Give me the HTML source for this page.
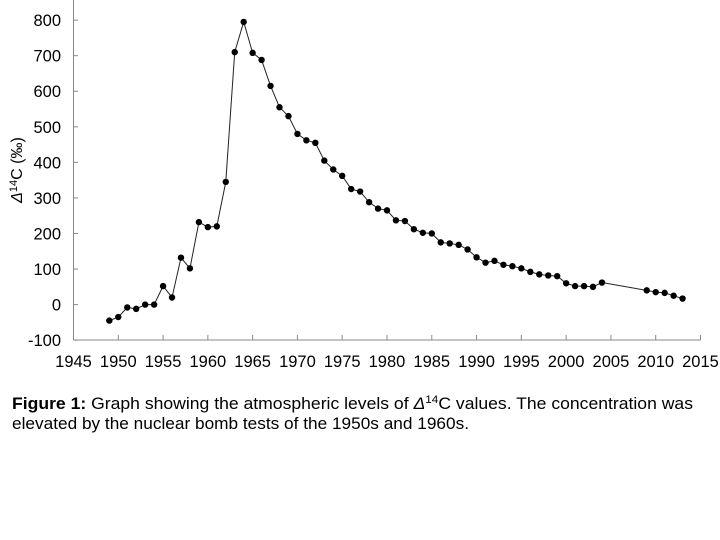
<!DOCTYPE html>
<html><head><meta charset="utf-8"><style>
html,body{margin:0;padding:0;background:#fff;}
svg{display:block;}
text{font-family:"Liberation Sans",Arial,sans-serif;fill:#000;}
</style></head><body>
<svg id="s" width="720" height="540" viewBox="0 0 720 540" xmlns="http://www.w3.org/2000/svg">
<rect width="720" height="540" fill="#fff"/>
<g id="ax" stroke="#888" stroke-width="1" fill="none"></g>
<g id="lbl" font-size="16.5"></g>
<polyline id="ln" fill="none" stroke="#222" stroke-width="1"/>
<g id="pts" fill="#000"></g>
<text transform="translate(22,170) rotate(-90)" font-size="16" text-anchor="middle"><tspan font-style="italic">Δ</tspan><tspan font-size="11" dy="-5">14</tspan><tspan dy="5">C (‰)</tspan></text>
<text x="12" y="409" font-size="16.5" textLength="681" lengthAdjust="spacingAndGlyphs"><tspan font-weight="bold">Figure 1:</tspan> Graph showing the atmospheric levels of <tspan font-style="italic">Δ</tspan><tspan font-size="11" dy="-6">14</tspan><tspan dy="6">C values. The concentration was</tspan></text>
<text x="12" y="429" font-size="16.5" textLength="457" lengthAdjust="spacingAndGlyphs">elevated by the nuclear bomb tests of the 1950s and 1960s.</text>
</svg>
<script>
const ns="http://www.w3.org/2000/svg";
const X=y=>73.5+(y-1945)*8.957, Y=v=>304.6-v*0.3556;
const ax=document.getElementById('ax'),lb=document.getElementById('lbl');
function el(p,t,a,txt){const e=document.createElementNS(ns,t);for(const k in a)e.setAttribute(k,a[k]);if(txt!=null)e.textContent=txt;p.appendChild(e);}
el(ax,'line',{x1:73.5,y1:0,x2:73.5,y2:340});
el(ax,'line',{x1:73.5,y1:340,x2:700.5,y2:340});
for(let v=-100;v<=800;v+=100){el(ax,'line',{x1:73.5,y1:Y(v),x2:78,y2:Y(v)});el(lb,'text',{x:61,y:Y(v)+6,'text-anchor':'end'},v);}
for(let y=1945;y<=2015;y+=5){el(ax,'line',{x1:X(y),y1:335,x2:X(y),y2:340});el(lb,'text',{x:X(y),y:367,'text-anchor':'middle'},y);}
const d=[[1949,-45],[1950,-35],[1951,-8],[1952,-12],[1953,0],[1954,0],[1955,52],[1956,20],[1957,132],[1958,102],[1959,232],[1960,218],[1961,220],[1962,345],[1963,710],[1964,795],[1965,708],[1966,688],[1967,615],[1968,555],[1969,530],[1970,480],[1971,462],[1972,455],[1973,405],[1974,380],[1975,362],[1976,325],[1977,318],[1978,288],[1979,270],[1980,265],[1981,237],[1982,235],[1983,212],[1984,202],[1985,200],[1986,175],[1987,172],[1988,168],[1989,155],[1990,133],[1991,118],[1992,123],[1993,112],[1994,108],[1995,102],[1996,92],[1997,85],[1998,82],[1999,80],[2000,60],[2001,52],[2002,52],[2003,50],[2004,62],[2009,40],[2010,35],[2011,33],[2012,25],[2013,17]];
document.getElementById('ln').setAttribute('points',d.map(p=>X(p[0])+','+Y(p[1])).join(' '));
const pts=document.getElementById('pts');
d.forEach(p=>el(pts,'circle',{cx:X(p[0]),cy:Y(p[1]),r:3.2}));
</script>
</body></html>
